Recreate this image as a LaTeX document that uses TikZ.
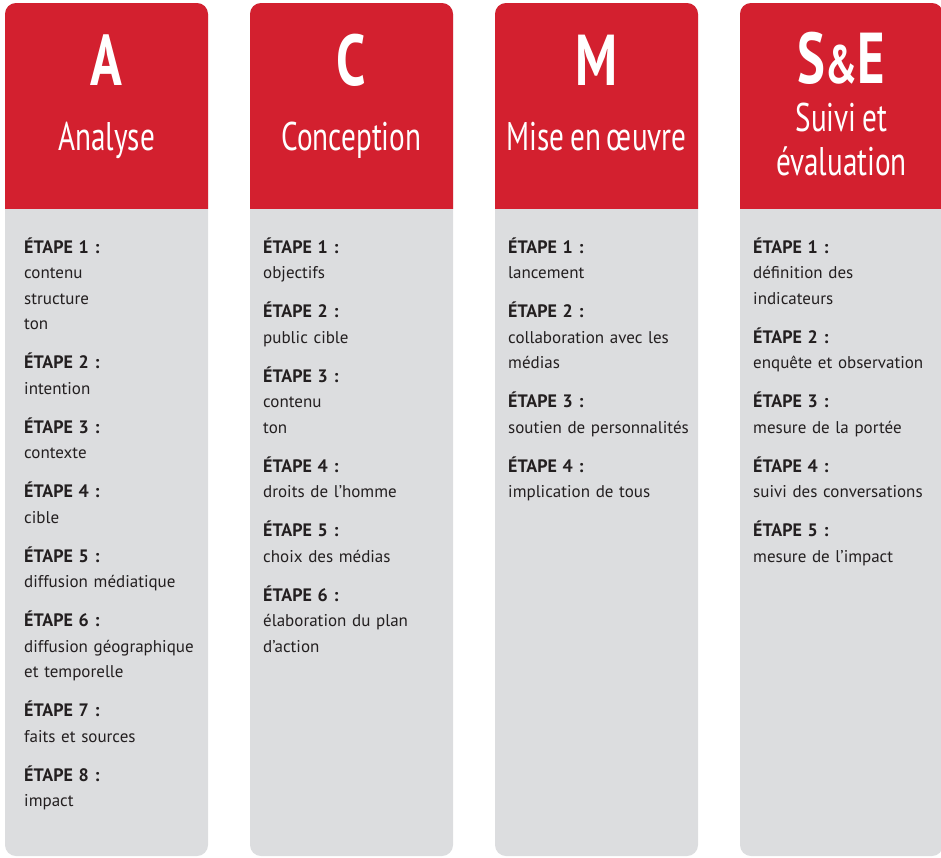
\documentclass[tikz,border=0pt]{standalone}
\usepackage{fontspec}
\setmainfont{PT Sans}
\newfontfamily\headfont[FakeStretch=0.73, WordSpace=0.75]{PT Sans}
\usepackage{xcolor}
\usetikzlibrary{positioning}

\definecolor{acred}{HTML}{D3202F}
\definecolor{acgrey}{HTML}{DCDDDF}
\definecolor{acink}{HTML}{231F20}

\newcommand{\etape}[1]{{\bfseries\fontsize{18}{25.5}\selectfont ÉTAPE #1 :}}
\newcommand{\gap}{\\[13.5pt]}

\begin{document}
\begin{tikzpicture}[
  x=1pt, y=-1pt,
  colbody/.style={fill=acgrey, rounded corners=11pt},
  colhead/.style={fill=acred, rounded corners=11pt},
  letter/.style={anchor=base, text=white, font=\headfont\bfseries\fontsize{72}{72}\selectfont},
  title/.style={anchor=base, text=white, font=\headfont\fontsize{40}{40}\selectfont},
  steps/.style={anchor=base west, text=acink, text width=190pt, align=left,
                inner sep=0pt, font=\fontsize{17}{25.5}\selectfont},
]
\useasboundingbox (0,0) rectangle (941,857);

%% ── column A: analyse ────────────────────────────────────────────────
\begin{scope}[xshift=5pt]
  \fill[colbody] (0,3) rectangle (203,856);
  \begin{scope}
    \clip (0,0) rectangle (203,208);
    \fill[colhead] (0,3) rectangle (203,300);
  \end{scope}
  \node[letter] (lA) at (101.5,85) {A};
  \node[title]  (tA) at (101.5,150) {Analyse};
  \node[steps]  (sA) at (19,253) {%
    \etape{1}\\contenu\\structure\\ton\gap
    \etape{2}\\intention\gap
    \etape{3}\\contexte\gap
    \etape{4}\\cible\gap
    \etape{5}\\diffusion médiatique\gap
    \etape{6}\\diffusion géographique\\et temporelle\gap
    \etape{7}\\faits et sources\gap
    \etape{8}\\impact};
\end{scope}

%% ── column C: conception ─────────────────────────────────────────────
\begin{scope}[xshift=250pt]
  \fill[colbody] (0,3) rectangle (203,856);
  \begin{scope}
    \clip (0,0) rectangle (203,208);
    \fill[colhead] (0,3) rectangle (203,300);
  \end{scope}
  \node[letter] (lC) at (101.5,85) {C};
  \node[title]  (tC) at (101.5,150) {Conception};
  \node[steps]  (sC) at (13,253) {%
    \etape{1}\\objectifs\gap
    \etape{2}\\public cible\gap
    \etape{3}\\contenu\\ton\gap
    \etape{4}\\droits de l’homme\gap
    \etape{5}\\choix des médias\gap
    \etape{6}\\élaboration du plan\\d’action};
\end{scope}

%% ── column M: mise en oeuvre ─────────────────────────────────────────
\begin{scope}[xshift=495pt]
  \fill[colbody] (0,3) rectangle (203,856);
  \begin{scope}
    \clip (0,0) rectangle (203,208);
    \fill[colhead] (0,3) rectangle (203,300);
  \end{scope}
  \node[letter] (lM) at (101.5,85) {M};
  \node[title]  (tM) at (101.5,150) {Mise en œuvre};
  \node[steps]  (sM) at (13,253) {%
    \etape{1}\\lancement\gap
    \etape{2}\\collaboration avec les\\médias\gap
    \etape{3}\\soutien de personnalités\gap
    \etape{4}\\implication de tous};
\end{scope}

%% ── column S&E: suivi et evaluation ──────────────────────────────────
\begin{scope}[xshift=740pt]
  \fill[colbody] (0,3) rectangle (203,856);
  \begin{scope}
    \clip (0,0) rectangle (203,208);
    \fill[colhead] (0,3) rectangle (203,300);
  \end{scope}
  \node[letter] (lS) at (101.5,83) {S{\fontsize{54}{54}\selectfont\&}E};
  \node[title]  (tS1) at (101.5,131) {Suivi et};
  \node[title]  (tS2) at (101.5,175) {évaluation};
  \node[steps]  (sS) at (13,253) {%
    \etape{1}\\définition des\\indicateurs\gap
    \etape{2}\\enquête et observation\gap
    \etape{3}\\mesure de la portée\gap
    \etape{4}\\suivi des conversations\gap
    \etape{5}\\mesure de l’impact};
\end{scope}

\end{tikzpicture}
\end{document}
